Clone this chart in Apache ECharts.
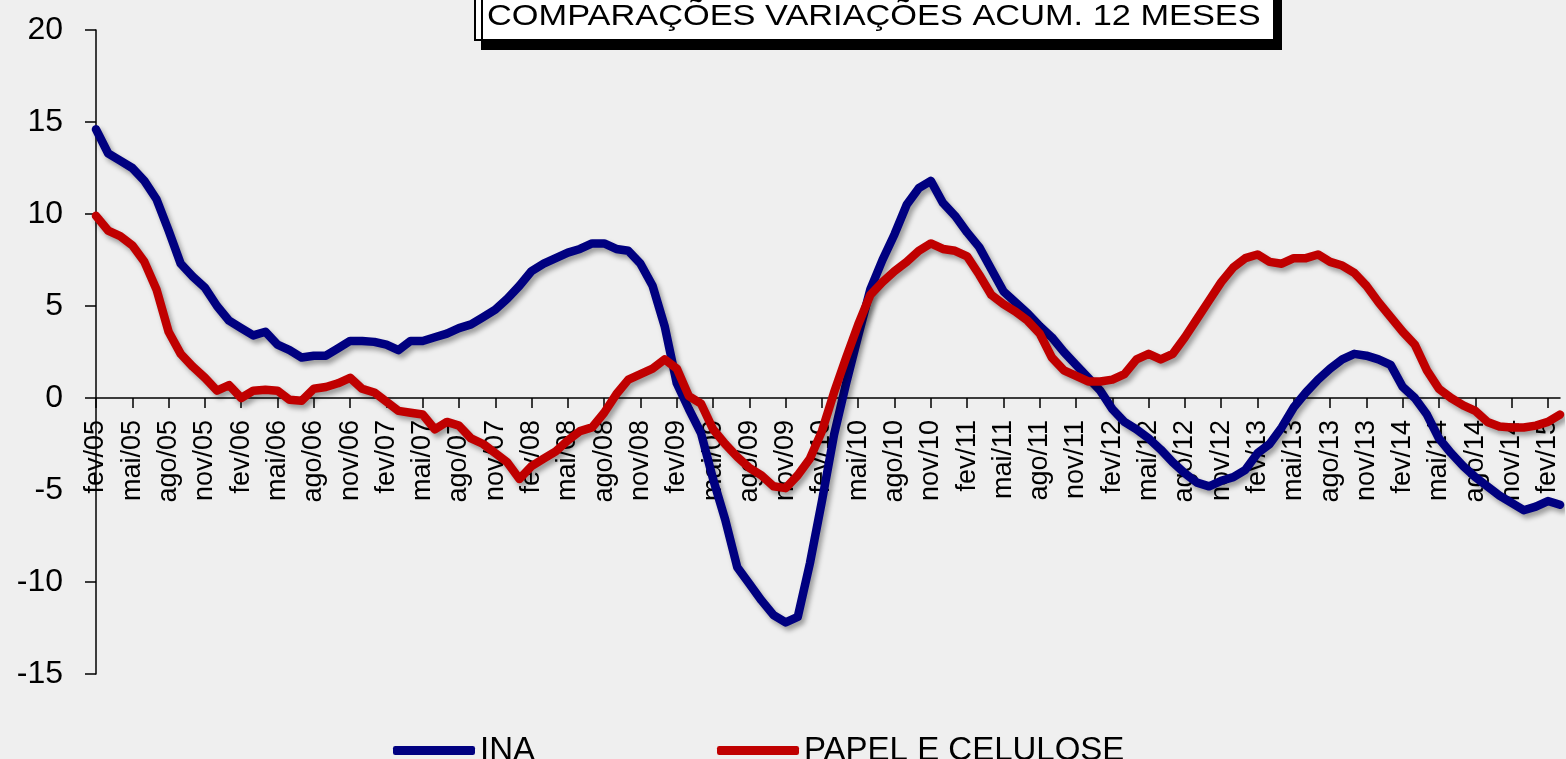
<!DOCTYPE html>
<html><head><meta charset="UTF-8">
<title>INA x Papel e Celulose</title>
<script src="https://cdn.jsdelivr.net/npm/echarts@6.0.0/dist/echarts.min.js"></script>
<style>
  html, body { margin: 0; padding: 0; background: #efefef; }
  #g1 { width: 1566px; height: 759px; }
</style>
</head>
<body>
<div id="g1"></div>
<script type="text/javascript">
// meses de fev/05 a mar/15
var meses = ['jan', 'fev', 'mar', 'abr', 'mai', 'jun', 'jul', 'ago', 'set', 'out', 'nov', 'dez'];
var anoInicial = 2005, mesInicial = 1, numMeses = 122;

var ina = [
  14.6, 13.3, 12.9, 12.5, 11.8, 10.8, 9.1, 7.3, 6.6, 6.0,
  5.0, 4.2, 3.8, 3.4, 3.6, 2.9, 2.6, 2.2, 2.3, 2.3,
  2.7, 3.1, 3.1, 3.05, 2.9, 2.6, 3.1, 3.1, 3.3, 3.5,
  3.8, 4.0, 4.4, 4.8, 5.4, 6.1, 6.9, 7.3, 7.6, 7.9,
  8.1, 8.4, 8.4, 8.1, 8.0, 7.3, 6.1, 3.9, 0.8, -0.6,
  -1.9, -4.4, -6.6, -9.2, -10.1, -11.0, -11.8, -12.2, -11.9, -9.0,
  -5.6, -2.0, 0.8, 3.4, 5.9, 7.5, 8.9, 10.5, 11.4, 11.8,
  10.6, 9.9, 9.0, 8.2, 7.0, 5.8, 5.2, 4.6, 3.9, 3.3,
  2.5, 1.8, 1.1, 0.4, -0.6, -1.3, -1.7, -2.2, -2.8, -3.5,
  -4.1, -4.6, -4.8, -4.5, -4.3, -3.9, -3.0, -2.5, -1.6, -0.5,
  0.3, 1.0, 1.6, 2.1, 2.4, 2.3, 2.1, 1.8, 0.6, 0.0,
  -0.9, -2.2, -3.0, -3.7, -4.3, -4.8, -5.3, -5.7, -6.1, -5.9,
  -5.6, -5.8
];

var papel = [
  9.9, 9.1, 8.8, 8.3, 7.4, 5.9, 3.6, 2.4, 1.7, 1.1,
  0.4, 0.7, 0.0, 0.4, 0.45, 0.4, -0.1, -0.15, 0.5, 0.6,
  0.8, 1.1, 0.5, 0.3, -0.2, -0.7, -0.8, -0.9, -1.7, -1.3,
  -1.5, -2.2, -2.5, -3.0, -3.5, -4.4, -3.7, -3.3, -2.9, -2.3,
  -1.8, -1.6, -0.8, 0.2, 1.0, 1.3, 1.6, 2.1, 1.6, 0.1,
  -0.3, -1.7, -2.5, -3.2, -3.8, -4.2, -4.8, -4.9, -4.2, -3.3,
  -1.8, 0.3, 2.2, 4.0, 5.6, 6.3, 6.9, 7.4, 8.0, 8.4,
  8.1, 8.0, 7.7, 6.7, 5.6, 5.1, 4.7, 4.2, 3.5, 2.2,
  1.5, 1.2, 0.9, 0.9, 1.0, 1.3, 2.1, 2.4, 2.1, 2.4,
  3.3, 4.3, 5.3, 6.3, 7.1, 7.6, 7.8, 7.4, 7.3, 7.6,
  7.6, 7.8, 7.4, 7.2, 6.8, 6.1, 5.2, 4.4, 3.6, 2.9,
  1.5, 0.5, 0.0, -0.4, -0.7, -1.3, -1.55, -1.6, -1.6, -1.5,
  -1.3, -0.9
];

var yMin = -15, yMax = 20, yPasso = 5;

var categorias = [];
for (var i = 0; i < numMeses; i++) {
    var m = (mesInicial + i) % 12;
    var a = anoInicial + Math.floor((mesInicial + i) / 12);
    categorias.push(meses[m] + '/' + String(a).slice(2));
}

var sombra = {shadowColor: 'rgba(0,0,0,0.35)', shadowBlur: 5, shadowOffsetX: 3, shadowOffsetY: 4};
var fonte = '"Liberation Sans", Arial, sans-serif';

// grid fixo: eixo x fica na linha do zero
var gridTop = 30, gridBottom = 85, alturaGrid = 759 - gridTop - gridBottom;
var deslocZero = alturaGrid * (0 - yMin) / (yMax - yMin);

var option = {
    backgroundColor: '#efefef',
    animation: false,
    textStyle: {fontFamily: fonte},
    grid: {left: 96, right: 6, top: gridTop, bottom: gridBottom, containLabel: false, outerBoundsMode: 'none'},
    graphic: [
        {
            type: 'rect',
            shape: {x: 475, y: -15, width: 799, height: 55},
            style: {fill: '#fff', stroke: '#000', lineWidth: 2,
                    shadowColor: '#000', shadowBlur: 0, shadowOffsetX: 7, shadowOffsetY: 9},
            z: 10
        },
        {
            type: 'text',
            x: 487, y: 17, scaleX: 1.145,
            style: {text: 'COMPARAÇÕES VARIAÇÕES ACUM. 12 MESES', x: 0, y: 0,
                    font: '30px ' + fonte, fill: '#000', verticalAlign: 'middle'},
            z: 11
        }
    ],
    legend: {
        left: 388, top: 729,
        icon: 'roundRect', itemWidth: 82, itemHeight: 9, itemGap: 182,
        textStyle: {fontSize: 33, color: '#000', fontFamily: fonte},
        data: ['INA', 'PAPEL E CELULOSE']
    },
    xAxis: {
        type: 'category',
        boundaryGap: false,
        data: categorias,
        offset: -deslocZero,
        axisLine: {onZero: false, lineStyle: {color: '#000', width: 1.5}},
        axisTick: {interval: 2, length: 10, lineStyle: {color: '#000', width: 1.5}},
        axisLabel: {interval: 2, rotate: 90, margin: 22, fontSize: 27, color: '#000', fontFamily: fonte},
        splitLine: {show: false}
    },
    yAxis: {
        type: 'value',
        min: yMin, max: yMax, interval: yPasso,
        axisLine: {show: true, onZero: false, lineStyle: {color: '#000', width: 1.5}},
        axisTick: {show: true, length: 11, lineStyle: {color: '#000', width: 1.5}},
        axisLabel: {margin: 33, fontSize: 32, color: '#000', fontFamily: fonte},
        splitLine: {show: false}
    },
    series: [
        {name: 'INA', type: 'line', data: ina, symbol: 'none',
         itemStyle: {color: '#000080'},
         lineStyle: Object.assign({color: '#000080', width: 8.5, cap: 'round', join: 'round'}, sombra)},
        {name: 'PAPEL E CELULOSE', type: 'line', data: papel, symbol: 'none',
         itemStyle: {color: '#c00000'},
         lineStyle: Object.assign({color: '#c00000', width: 8.5, cap: 'round', join: 'round'}, sombra)}
    ]
};

var myChart = echarts.init(document.getElementById('g1'));
myChart.setOption(option);
</script>
</body></html>
